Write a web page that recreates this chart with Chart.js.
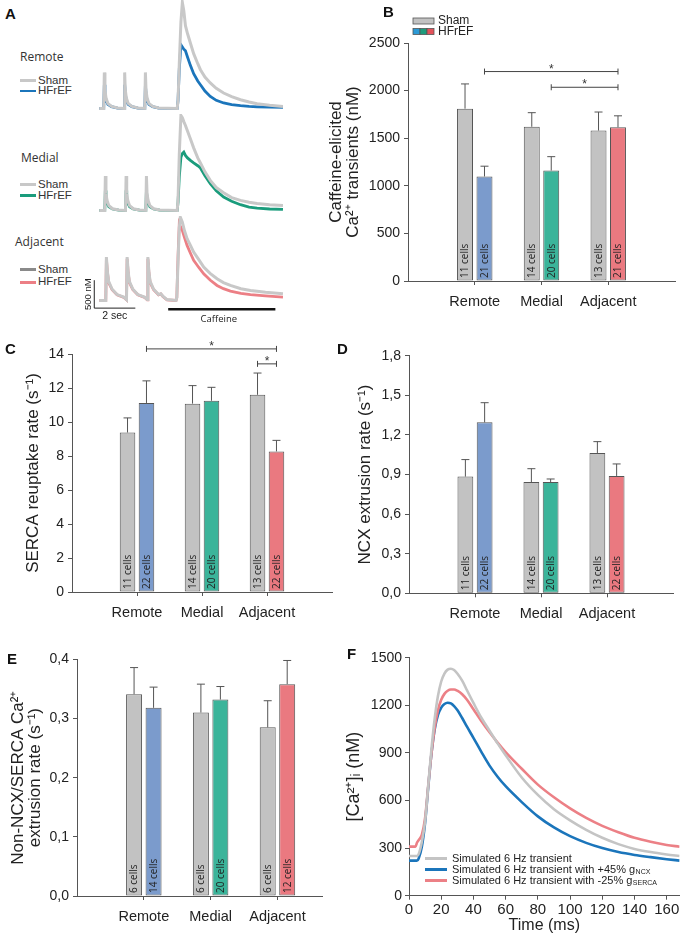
<!DOCTYPE html>
<html>
<head>
<meta charset="utf-8">
<script src="https://cdn.jsdelivr.net/npm/chart.js@4.4.1/dist/chart.umd.min.js"></script>
<style>
  body { margin: 0; width: 683px; height: 934px; position: relative; overflow: hidden; background: #fff; font-family: "Liberation Sans", Arial, sans-serif; color: #222; }
  canvas { position: absolute; }
  .t { position: absolute; white-space: nowrap; line-height: 1; }
  .letter { font-weight: bold; font-size: 15px; color: #111; }
  .row { font-family: "Open Sans", sans-serif; font-size: 12px; color: #333; }
  .leg { font-size: 11.5px; color: #333; }
  .ln { position: absolute; height: 2.5px; width: 16px; left: 20px; }
</style>
</head>
<body>

<canvas id="rowRemote" width="208" height="114" style="left:76px;top:0px"></canvas>
<canvas id="rowMedial" width="208" height="102" style="left:76px;top:114px"></canvas>
<canvas id="rowAdjacent" width="208" height="110" style="left:76px;top:216px"></canvas>
<canvas id="chartB" width="358" height="320" style="left:325px;top:0px"></canvas>
<canvas id="chartC" width="340" height="300" style="left:0px;top:330px"></canvas>
<canvas id="chartD" width="358" height="300" style="left:325px;top:330px"></canvas>
<canvas id="chartE" width="340" height="299" style="left:0px;top:635px"></canvas>
<canvas id="chartF" width="348" height="294" style="left:335px;top:640px"></canvas>

<div class="t letter" style="left:5px;top:6px">A</div>
<div class="t letter" style="left:383px;top:4px">B</div>
<div class="t letter" style="left:5px;top:341px">C</div>
<div class="t letter" style="left:337px;top:341px">D</div>
<div class="t letter" style="left:7px;top:651px">E</div>
<div class="t letter" style="left:347px;top:646px">F</div>

<div class="t row" style="left:20px;top:51px">Remote</div>
<div class="ln" style="top:79px;background:#c8c8c8"></div>
<div class="t leg" style="left:38px;top:75px">Sham</div>
<div class="ln" style="top:89.5px;background:#1b75bb"></div>
<div class="t leg" style="left:38px;top:85px">HFrEF</div>

<div class="t row" style="left:21px;top:152px">Medial</div>
<div class="ln" style="top:183px;background:#c8c8c8"></div>
<div class="t leg" style="left:38px;top:178.5px">Sham</div>
<div class="ln" style="top:194px;background:#1a9c7c"></div>
<div class="t leg" style="left:38px;top:190px">HFrEF</div>

<div class="t row" style="left:15px;top:236px">Adjacent</div>
<div class="ln" style="top:268px;background:#8a8a8a"></div>
<div class="t leg" style="left:38px;top:263.5px">Sham</div>
<div class="ln" style="top:281px;background:#ec7f85"></div>
<div class="t leg" style="left:38px;top:276px">HFrEF</div>

<script>
const sans = '"Liberation Sans", Arial, sans-serif'
Chart.defaults.font.family = sans
Chart.defaults.color = '#222'

// ---- panel A traces (time in s, [Ca2+] in nM) ----
const remoteTime = [0, 0.22, 0.25, 0.28, 0.33, 0.42, 0.6, 0.9,
  1.21, 1.24, 1.27, 1.32, 1.41, 1.59, 1.89,
  2.22, 2.25, 2.28, 2.33, 2.42, 2.6, 2.9,
  3.8, 3.84, 3.9, 3.98, 4.05, 4.12, 4.2, 4.3, 4.44, 4.6, 4.8, 4.93, 5.15, 5.41, 5.7, 6.06, 6.45, 6.88, 7.3, 7.69, 8.3, 8.95]
const remoteSham = [100, 100, 744, 430, 290, 190, 135, 108,
  100, 744, 430, 290, 190, 135, 108,
  100, 744, 430, 290, 190, 135, 108,
  100, 250, 900, 1650, 1997, 1850, 1580, 1440, 1271, 1080, 900, 793, 660, 555, 460, 376, 310, 256, 215, 184, 155, 136]
const remoteHf = [100, 100, 524, 360, 250, 175, 130, 105,
  100, 524, 360, 250, 175, 130, 105,
  100, 524, 360, 250, 175, 130, 105,
  100, 250, 800, 1240, 1200, 1160, 1130, 1020, 870, 720, 590, 524, 410, 315, 245, 197, 168, 148, 135, 128, 122, 118]

const medialTime = [0, 0.27, 0.30, 0.33, 0.38, 0.47, 0.65, 0.95,
  1.28, 1.31, 1.34, 1.39, 1.48, 1.66, 1.96,
  2.27, 2.30, 2.33, 2.38, 2.47, 2.65, 2.95,
  3.8, 3.84, 3.9, 3.98, 4.05, 4.12, 4.2, 4.3, 4.44, 4.6, 4.8, 4.93, 5.15, 5.41, 5.7, 6.06, 6.45, 6.88, 7.3, 7.69, 8.3, 8.95]
const medialSham = [100, 100, 714, 410, 280, 185, 130, 106,
  100, 714, 410, 280, 185, 130, 106,
  100, 714, 410, 280, 185, 130, 106,
  100, 300, 1100, 1800, 1760, 1690, 1621, 1520, 1382, 1220, 1040, 950, 790, 637, 510, 417, 330, 279, 245, 225, 200, 190]
const medialHf = [100, 100, 458, 320, 230, 165, 125, 104,
  100, 458, 320, 230, 165, 125, 104,
  100, 458, 320, 230, 165, 125, 104,
  100, 250, 700, 1050, 1120, 1144, 1084, 1040, 995, 950, 900, 860, 720, 578, 450, 338, 265, 202, 160, 140, 125, 118]

const adjTime = [0, 0.32, 0.35, 0.40, 0.46, 0.63, 0.87, 1.2,
  1.33, 1.36, 1.41, 1.47, 1.64, 1.88, 2.21,
  2.34, 2.37, 2.42, 2.48, 2.65, 2.89, 3.0, 3.1, 3.3,
  3.74, 3.78, 3.84, 3.9, 3.95, 4.05, 4.15, 4.28, 4.45, 4.6, 4.85, 5.09, 5.4, 5.74, 6.05, 6.39, 6.9, 7.37, 8.1, 8.95]
const adjSham = [100, 100, 875, 620, 440, 300, 205, 160,
  115, 875, 620, 440, 300, 205, 160,
  115, 875, 620, 440, 300, 205, 220, 175, 115,
  100, 150, 800, 1400, 1591, 1500, 1350, 1204, 1080, 965, 830, 697, 585, 488, 420, 368, 310, 279, 245, 220]
const adjHf = [100, 100, 846, 600, 420, 290, 200, 155,
  110, 846, 600, 420, 290, 200, 155,
  110, 846, 600, 420, 290, 200, 215, 170, 110,
  100, 150, 900, 1473, 1430, 1350, 1230, 1085, 940, 816, 690, 577, 465, 368, 310, 267, 225, 202, 180, 159]

// scale bars / caffeine application
const scaleBarStart = -0.24, scaleBarSec = 2, scaleBarBase = -38, scaleBarNm = 500
const caffeineFrom = 3.36, caffeineTo = 8.58, caffeineLevel = -60

// ---- bar panels ----
const groups = ['Remote', 'Medial', 'Adjacent']
const slotIdx = [3, 6, 9]
const shamColor = '#c2c2c2'
const hfColors = ['#7b9bcc', '#3bb49a', '#ea7980']
const legendHfColors = ['#2b9ad6', '#1f9b7c', '#e4525a']

const cafSham = [1810, 1620, 1580]
const cafShamErr = [260, 148, 195]
const cafHf = [1098, 1160, 1615]
const cafHfErr = [108, 146, 120]
const cafShamCells = ['11 cells', '14 cells', '13 cells']
const cafHfCells = ['21 cells', '20 cells', '21 cells']
const cafTicks = [0, 500, 1000, 1500, 2000, 2500]

const sercaSham = [9.38, 11.08, 11.6]
const sercaShamErr = [0.86, 1.06, 1.28]
const sercaHf = [11.12, 11.25, 8.27]
const sercaHfErr = [1.3, 0.79, 0.65]
const sercaTicks = [0, 2, 4, 6, 8, 10, 12, 14]

const ncxSham = [0.884, 0.843, 1.063]
const ncxShamErr = [0.129, 0.101, 0.086]
const ncxHf = [1.295, 0.843, 0.889]
const ncxHfErr = [0.149, 0.023, 0.091]
const ncxTicks = [0, 0.3, 0.6, 0.9, 1.2, 1.5, 1.8]

const rateCells = [['11 cells', '14 cells', '13 cells'], ['22 cells', '20 cells', '22 cells']]

const otherSham = [0.341, 0.310, 0.285]
const otherShamErr = [0.045, 0.048, 0.045]
const otherHf = [0.318, 0.332, 0.358]
const otherHfErr = [0.035, 0.022, 0.040]
const otherShamCells = ['6 cells', '6 cells', '6 cells']
const otherHfCells = ['14 cells', '20 cells', '12 cells']
const otherTicks = [0, 0.1, 0.2, 0.3, 0.4]

// ---- panel F simulations (ms, nM) ----
const fTime = [0, 4, 5, 6, 8, 10, 12, 14, 16, 18, 20, 22, 24, 26, 28, 30, 33, 36, 40, 45, 50, 55, 60, 70, 80, 90, 100, 110, 120, 130, 140, 150, 160, 168]
const fSham = [250, 250, 251, 262, 340, 470, 700, 930, 1120, 1260, 1350, 1400, 1425, 1430, 1422, 1400, 1355, 1295, 1215, 1120, 1040, 960, 885, 745, 635, 545, 475, 415, 365, 325, 295, 275, 260, 250]
const fNcx = [221, 221, 222, 235, 310, 460, 690, 900, 1050, 1140, 1185, 1208, 1216, 1212, 1195, 1170, 1120, 1065, 995, 905, 820, 750, 690, 590, 500, 430, 375, 333, 300, 275, 257, 243, 230, 221]
const fSerca = [309, 309, 335, 350, 385, 490, 700, 900, 1060, 1170, 1235, 1272, 1292, 1300, 1300, 1292, 1270, 1235, 1175, 1100, 1030, 965, 905, 800, 700, 620, 550, 490, 440, 400, 365, 340, 320, 309]
const fTicksX = [0, 20, 40, 60, 80, 100, 120, 140, 160]
const fTicksY = [0, 300, 600, 900, 1200, 1500]
const fLegend = [
  { text: 'Simulated 6 Hz transient', sub: '', color: '#c4c4c4' },
  { text: 'Simulated 6 Hz transient with +45% g', sub: 'NCX', color: '#1b75bb' },
  { text: 'Simulated 6 Hz transient with -25% g', sub: 'SERCA', color: '#ec8086' }
]

function toSlots(values, n) {
  const out = new Array(n).fill(null)
  values.forEach(function (v, i) { out[slotIdx[i]] = v })
  return out
}

function comma(v) { return v.toFixed(1).replace('.', ',') }
function plain(v) { return String(v) }

const traceScaleBars = {
  id: 'traceScaleBars',
  afterDraw(chart) {
    const c = chart.ctx, x = chart.scales.x, y = chart.scales.y
    const x0 = x.getPixelForValue(scaleBarStart), x1 = x.getPixelForValue(scaleBarStart + scaleBarSec)
    const y0 = y.getPixelForValue(scaleBarBase), y1 = y.getPixelForValue(scaleBarBase + scaleBarNm)
    c.save()
    c.strokeStyle = '#222'
    c.lineWidth = 1
    c.beginPath()
    c.moveTo(x0, y1); c.lineTo(x0, y0); c.lineTo(x1, y0)
    c.stroke()
    c.fillStyle = '#222'
    c.font = '10.5px ' + sans
    c.textAlign = 'center'
    c.textBaseline = 'middle'
    c.fillText('2 sec', (x0 + x1) / 2, y0 + 8)
    c.save()
    c.translate(x0 - 6, (y0 + y1) / 2)
    c.rotate(-Math.PI / 2)
    c.font = '9.5px ' + sans
    c.fillText('500 nM', 0, 0)
    c.restore()
    const cy = y.getPixelForValue(caffeineLevel)
    c.lineWidth = 2.5
    c.strokeStyle = '#111'
    c.beginPath()
    c.moveTo(x.getPixelForValue(caffeineFrom), cy)
    c.lineTo(x.getPixelForValue(caffeineTo), cy)
    c.stroke()
    c.font = '9.5px "Open Sans", sans-serif'
    c.fillText('Caffeine', x.getPixelForValue((caffeineFrom + caffeineTo) / 2) - 3, cy + 10)
    c.restore()
  }
}

function makeTrace(id, time, sham, hf, hfColor, yMax, padBottom, extra) {
  new Chart(document.getElementById(id), {
    type: 'line',
    data: {
      datasets: [
        { data: time.map(function (t, i) { return { x: t, y: sham[i] } }), borderColor: '#c8c8c8', borderWidth: 3, pointRadius: 0, tension: 0, clip: false },
        { data: time.map(function (t, i) { return { x: t, y: hf[i] } }), borderColor: hfColor, borderWidth: 2.8, pointRadius: 0, tension: 0, clip: false }
      ]
    },
    options: {
      responsive: false, animation: false, events: [],
      layout: { padding: { left: 0, right: 0, top: 0, bottom: padBottom } },
      plugins: { legend: { display: false }, tooltip: { enabled: false } },
      scales: {
        x: { type: 'linear', display: false, min: -1.13, max: 9.0 },
        y: { display: false, min: 0, max: yMax }
      }
    },
    plugins: extra ? [extra] : []
  })
}

function barExtras(o) {
  return {
    id: 'barExtras',
    afterDatasetsDraw(chart) {
      const c = chart.ctx
      const yS = chart.scales.y
      const base = yS.getPixelForValue(0)
      const vals = [o.sham, o.hf], errs = [o.shamErr, o.hfErr], cells = [o.shamCells, o.hfCells]
      c.save()
      for (let d = 0; d < 2; d++) {
        const meta = chart.getDatasetMeta(d)
        slotIdx.forEach(function (s, i) {
          const bar = meta.data[s]
          const top = yS.getPixelForValue(vals[d][i] + errs[d][i])
          c.strokeStyle = '#555'
          c.lineWidth = 1
          c.beginPath()
          c.moveTo(bar.x, bar.y); c.lineTo(bar.x, top)
          c.moveTo(bar.x - 4, top); c.lineTo(bar.x + 4, top)
          c.stroke()
          c.save()
          c.translate(bar.x + 0.5, base - 3)
          c.rotate(-Math.PI / 2)
          c.font = '10px "Open Sans", sans-serif'
          c.fillStyle = '#222'
          c.textAlign = 'left'
          c.textBaseline = 'middle'
          c.fillText(cells[d][i], 0, 0)
          c.restore()
        })
      }
      (o.brackets || []).forEach(function (b) {
        const x1 = chart.getDatasetMeta(b.from[1]).data[slotIdx[b.from[0]]].x
        const x2 = chart.getDatasetMeta(b.to[1]).data[slotIdx[b.to[0]]].x
        const y = yS.getPixelForValue(b.y)
        c.strokeStyle = '#444'
        c.lineWidth = 1
        c.beginPath()
        c.moveTo(x1, y); c.lineTo(x2, y)
        c.moveTo(x1, y - 3); c.lineTo(x1, y + 3)
        c.moveTo(x2, y - 3); c.lineTo(x2, y + 3)
        c.stroke()
        c.fillStyle = '#333'
        c.font = '12px ' + sans
        c.textAlign = 'center'
        c.textBaseline = 'alphabetic'
        c.fillText('*', (x1 + x2) / 2, y + 1)
      })
      if (o.legend) {
        const L = chart.chartArea.left + 5
        c.strokeStyle = '#555'
        c.lineWidth = 0.8
        c.fillStyle = shamColor
        c.fillRect(L, 18, 21, 6); c.strokeRect(L, 18, 21, 6)
        legendHfColors.forEach(function (col, k) {
          c.fillStyle = col
          c.fillRect(L + k * 7, 28.5, 7, 6); c.strokeRect(L + k * 7, 28.5, 7, 6)
        })
        c.fillStyle = '#222'
        c.font = '12px ' + sans
        c.textAlign = 'left'
        c.textBaseline = 'middle'
        c.fillText('Sham', L + 25, 21)
        c.fillText('HFrEF', L + 25, 31.5)
      }
      c.restore()
    }
  }
}

function makeBars(id, o) {
  const n = o.nSlots
  const labels = toSlots(groups, n).map(function (g) { return g || '' })
  new Chart(document.getElementById(id), {
    type: 'bar',
    data: {
      labels: labels,
      datasets: [
        { data: toSlots(o.sham, n), backgroundColor: shamColor, borderColor: '#555', borderWidth: 1 },
        { data: toSlots(o.hf, n), backgroundColor: toSlots(hfColors, n), borderColor: '#555', borderWidth: 1 }
      ]
    },
    options: {
      responsive: false, animation: false, events: [],
      layout: { padding: { left: 0, top: o.padTop, right: o.padRight, bottom: 0 } },
      datasets: { bar: { categoryPercentage: 1.75, barPercentage: 0.82, borderSkipped: false } },
      plugins: { legend: { display: false }, tooltip: { enabled: false } },
      scales: {
        x: {
          offset: false,
          grid: { offset: false, drawOnChartArea: false, tickLength: 4,
            tickColor: function (ctx) { return slotIdx.indexOf(ctx.index) >= 0 ? '#555' : 'rgba(0,0,0,0)' } },
          border: { color: '#555' },
          ticks: { autoSkip: false, maxRotation: 0, padding: 8, font: { size: 14.5 }, color: '#222' },
          afterFit: function (s) { s.height = o.xHeight }
        },
        y: {
          min: o.ticks[0], max: o.ticks[o.ticks.length - 1],
          afterBuildTicks: function (s) { s.ticks = o.ticks.map(function (v) { return { value: v } }) },
          grid: { drawOnChartArea: false, tickLength: 4, tickColor: '#555' },
          border: { color: '#555' },
          ticks: { padding: 4, font: { size: 14 }, color: '#222', callback: o.fmt || plain },
          title: { display: true, text: o.title, font: { size: 17, lineHeight: 1 }, color: '#222', padding: { top: o.titlePad, bottom: 0 } },
          afterFit: function (s) { s.width = o.yWidth }
        }
      }
    },
    plugins: [barExtras(o)]
  })
}

function handleOnLoad() {
  makeTrace('rowRemote', remoteTime, remoteSham, remoteHf, '#1b75bb', 2040, 0, null)
  makeTrace('rowMedial', medialTime, medialSham, medialHf, '#1a9c7c', 1826, 0, null)
  makeTrace('rowAdjacent', adjTime, adjSham, adjHf, '#ec7f85', 1611, 20, traceScaleBars)

  makeBars('chartB', {
    nSlots: 13, sham: cafSham, shamErr: cafShamErr, hf: cafHf, hfErr: cafHfErr,
    shamCells: cafShamCells, hfCells: cafHfCells, ticks: cafTicks,
    title: ['Caffeine-elicited', 'Ca²⁺ transients (nM)'], titlePad: 2.5,
    padTop: 43, padRight: 8, xHeight: 39, yWidth: 83, legend: true,
    brackets: [{ from: [0, 1], to: [2, 1], y: 2200 }, { from: [1, 1], to: [2, 1], y: 2035 }]
  })
  makeBars('chartC', {
    nSlots: 13, sham: sercaSham, shamErr: sercaShamErr, hf: sercaHf, hfErr: sercaHfErr,
    shamCells: rateCells[0], hfCells: rateCells[1], ticks: sercaTicks,
    title: 'SERCA reuptake rate (s⁻¹)', titlePad: 24.5,
    padTop: 24, padRight: 2, xHeight: 38, yWidth: 72,
    brackets: [{ from: [0, 1], to: [2, 1], y: 14.3 }, { from: [2, 0], to: [2, 1], y: 13.42 }]
  })
  makeBars('chartD', {
    nSlots: 13, sham: ncxSham, shamErr: ncxShamErr, hf: ncxHf, hfErr: ncxHfErr,
    shamCells: rateCells[0], hfCells: rateCells[1], ticks: ncxTicks, fmt: comma,
    title: 'NCX extrusion rate (s⁻¹)', titlePad: 31.5,
    padTop: 25.7, padRight: 10, xHeight: 36.7, yWidth: 84
  })
  makeBars('chartE', {
    nSlots: 12, sham: otherSham, shamErr: otherShamErr, hf: otherHf, hfErr: otherHfErr,
    shamCells: otherShamCells, hfCells: otherHfCells, ticks: otherTicks, fmt: comma,
    title: ['Non-NCX/SERCA Ca²⁺', 'extrusion rate (s⁻¹)'], titlePad: 9.5,
    padTop: 24.3, padRight: 18, xHeight: 38, yWidth: 77
  })

  const fLegendPlugin = {
    id: 'fLegend',
    afterDraw(chart) {
      const c = chart.ctx, a = chart.chartArea
      c.save()
      fLegend.forEach(function (r, i) {
        const y = a.bottom - 37.2 + i * 11
        c.strokeStyle = r.color
        c.lineWidth = 3
        c.beginPath()
        c.moveTo(a.left + 16, y); c.lineTo(a.left + 38, y)
        c.stroke()
        c.fillStyle = '#222'
        c.font = '11px ' + sans
        c.textAlign = 'left'
        c.textBaseline = 'middle'
        c.fillText(r.text, a.left + 43, y)
        if (r.sub) {
          const w = c.measureText(r.text).width
          c.font = '7px ' + sans
          c.fillText(r.sub, a.left + 43 + w + 0.5, y + 3)
        }
      })
      c.restore()
    }
  }

  function pts(ys) { return fTime.map(function (t, i) { return { x: t, y: ys[i] } }) }
  new Chart(document.getElementById('chartF'), {
    type: 'line',
    data: {
      datasets: [
        { data: pts(fSham), borderColor: '#c4c4c4', borderWidth: 2.6, pointRadius: 0, cubicInterpolationMode: 'monotone' },
        { data: pts(fSerca), borderColor: '#ec8086', borderWidth: 2.6, pointRadius: 0, cubicInterpolationMode: 'monotone' },
        { data: pts(fNcx), borderColor: '#1b75bb', borderWidth: 2.6, pointRadius: 0, cubicInterpolationMode: 'monotone' }
      ]
    },
    options: {
      responsive: false, animation: false, events: [],
      layout: { padding: { left: 0, top: 17.7, right: 3.4, bottom: 0 } },
      plugins: { legend: { display: false }, tooltip: { enabled: false } },
      scales: {
        x: {
          type: 'linear', min: 0, max: 168,
          afterBuildTicks: function (s) { s.ticks = fTicksX.map(function (v) { return { value: v } }) },
          grid: { drawOnChartArea: false, tickLength: 4, tickColor: '#555' },
          border: { color: '#555' },
          ticks: { padding: 1, font: { size: 15 }, color: '#222', maxRotation: 0, callback: plain },
          title: { display: true, text: 'Time (ms)', font: { size: 16, lineHeight: 1 }, color: '#222', padding: { top: 0, bottom: 0 } },
          afterFit: function (s) { s.height = 38.3 }
        },
        y: {
          min: 0, max: 1500,
          afterBuildTicks: function (s) { s.ticks = fTicksY.map(function (v) { return { value: v } }) },
          grid: { drawOnChartArea: false, tickLength: 4, tickColor: '#555' },
          border: { color: '#555' },
          ticks: { padding: 3, font: { size: 14 }, color: '#222', callback: plain },
          title: { display: true, text: '[Ca²⁺]ᵢ (nM)', font: { size: 18, lineHeight: 1 }, color: '#222', padding: { top: 10, bottom: 0 } },
          afterFit: function (s) { s.width = 74 }
        }
      }
    },
    plugins: [fLegendPlugin]
  })
}

handleOnLoad()
</script>
</body>
</html>
